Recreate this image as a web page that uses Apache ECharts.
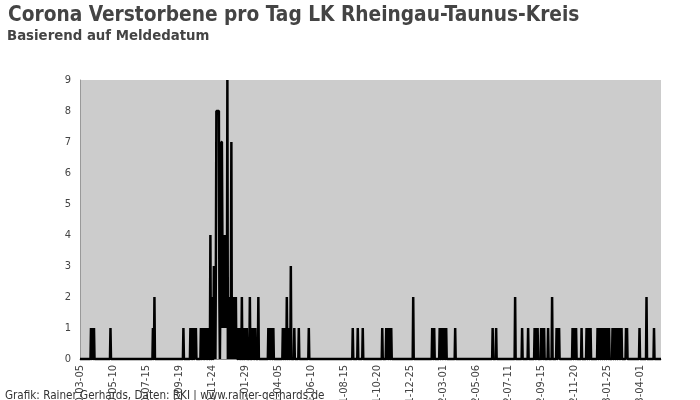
<!DOCTYPE html>
<html>
<head>
<meta charset="utf-8">
<script src="https://cdn.jsdelivr.net/npm/echarts@6/dist/echarts.min.js"></script>
<style>html,body{margin:0;padding:0;background:#fff}#c{width:700px;height:400px}</style>
</head>
<body>
<div id="c"></div>
<script>
const titleText = 'Corona Verstorbene pro Tag LK Rheingau-Taunus-Kreis';
const subtitleText = 'Basierend auf Meldedatum';
const footerText = 'Grafik: Rainer Gerhards, Daten: RKI | www.rainer-gerhards.de';
const startDate = '2020-03-05';
const endDate = '2023-05-12';
const yTicks = [0, 1, 2, 3, 4, 5, 6, 7, 8, 9];

// Days with reported deaths (all other days: 0)
const deathDates = [
  '2020-03-27','2020-03-30','2020-04-02','2020-05-05','2020-07-29','2020-08-01','2020-09-28',
  '2020-10-12','2020-10-15','2020-10-18','2020-10-21','2020-10-23',
  '2020-11-02','2020-11-05','2020-11-08','2020-11-11','2020-11-14','2020-11-17','2020-11-21',
  '2020-11-25','2020-11-28','2020-11-30','2020-12-02','2020-12-03','2020-12-04','2020-12-05',
  '2020-12-06','2020-12-07','2020-12-08','2020-12-09','2020-12-11','2020-12-12','2020-12-13','2020-12-14',
  '2020-12-15','2020-12-16','2020-12-17','2020-12-18','2020-12-19','2020-12-20','2020-12-21',
  '2020-12-22','2020-12-23','2020-12-24','2020-12-25','2020-12-27','2020-12-29','2020-12-30',
  '2021-01-01','2021-01-02','2021-01-04','2021-01-05','2021-01-06','2021-01-08','2021-01-09',
  '2021-01-11','2021-01-13','2021-01-16','2021-01-19','2021-01-23','2021-01-27','2021-01-30',
  '2021-02-02','2021-02-08','2021-02-13','2021-02-16','2021-02-19','2021-02-25',
  '2021-03-17','2021-03-20','2021-03-23','2021-03-27','2021-04-15','2021-04-19','2021-04-23',
  '2021-04-27','2021-05-01','2021-05-08','2021-05-17','2021-06-06',
  '2021-09-02','2021-09-12','2021-09-22','2021-10-31','2021-11-08','2021-11-11','2021-11-14',
  '2021-11-18','2022-01-01','2022-02-08','2022-02-12','2022-02-23','2022-02-27','2022-03-02',
  '2022-03-05','2022-03-08','2022-03-26','2022-06-09','2022-06-16','2022-07-24','2022-08-07',
  '2022-08-19','2022-09-01','2022-09-04','2022-09-07','2022-09-14','2022-09-17','2022-09-20',
  '2022-09-28','2022-10-06','2022-10-15','2022-10-18','2022-10-20','2022-11-16','2022-11-20',
  '2022-11-23','2022-12-04','2022-12-14','2022-12-18','2022-12-22','2023-01-05','2023-01-09',
  '2023-01-13','2023-01-17','2023-01-21','2023-01-25','2023-01-28','2023-02-04','2023-02-08',
  '2023-02-12','2023-02-16','2023-02-19','2023-02-22','2023-03-03','2023-03-05','2023-03-30',
  '2023-04-13','2023-04-28'
];
const deathCounts = [
  1,1,1,1,1,2,1,
  1,1,1,1,1,
  1,1,1,1,1,1,4,
  2,3,1,3,8,8,8,
  8,8,8,2,2,1,7,7,
  4,1,4,2,4,1,3,
  1,4,1,9,2,2,1,
  2,7,2,1,2,2,1,
  2,1,1,1,2,1,1,
  1,2,1,1,1,2,
  1,1,1,1,1,1,2,
  1,3,1,1,1,
  1,1,1,1,1,1,1,
  1,2,1,1,1,1,1,
  1,1,1,1,1,2,1,
  1,1,1,1,1,1,1,
  1,2,1,1,1,1,1,
  1,1,1,1,1,1,1,
  1,1,1,1,1,1,1,
  1,1,1,1,1,1,1,
  2,1
];

// build daily categories
const categories = [];
{
  const d = new Date(startDate + 'T00:00:00Z');
  const end = new Date(endDate + 'T00:00:00Z');
  while (d <= end) {
    categories.push(d.toISOString().slice(0, 10));
    d.setUTCDate(d.getUTCDate() + 1);
  }
}
const lookup = {};
deathDates.forEach((dt, i) => { lookup[dt] = deathCounts[i]; });
const seriesData = categories.map(c => (lookup[c] !== undefined ? lookup[c] : 0));

const FONT = 'DejaVu Sans Condensed, DejaVu Sans, sans-serif';
const chart = echarts.init(document.getElementById('c'), null, { renderer: 'canvas' });
chart.setOption({
  animation: false,
  backgroundColor: '#ffffff',
  title: [
    { text: titleText, left: 3, top: 0, textStyle: { fontFamily: FONT, fontSize: 20.7, fontWeight: 'bold', color: '#444444' } },
    { text: subtitleText, left: 2, top: 24, textStyle: { fontFamily: FONT, fontSize: 14.8, fontWeight: 'bold', color: '#444444' } },
    { text: footerText, left: 0, top: 385, textStyle: { fontFamily: FONT, fontSize: 11.6, fontWeight: 'normal', color: '#333333' } }
  ],
  grid: { left: 80, right: 39, top: 80, bottom: 41, show: true, backgroundColor: '#cccccc', borderWidth: 0, containLabel: false, outerBoundsMode: 'none' },
  xAxis: {
    type: 'category',
    data: categories,
    boundaryGap: false,
    axisLine: { show: true, lineStyle: { color: '#888888', width: 1 } },
    axisTick: { show: false },
    axisLabel: { interval: 65, rotate: 90, margin: 6, color: '#444444', fontSize: 11, fontFamily: FONT },
    splitLine: { show: false }
  },
  yAxis: {
    type: 'value',
    min: yTicks[0],
    max: yTicks[yTicks.length - 1],
    interval: 1,
    axisLine: { show: true, lineStyle: { color: '#999999' } },
    axisTick: { show: false },
    axisLabel: { color: '#444444', fontSize: 11, margin: 9, fontFamily: FONT },
    splitLine: { show: false }
  },
  series: [{
    type: 'custom',
    data: seriesData.map((v, i) => [i, v]),
    encode: { x: 0, y: 1 },
    z: 3,
    renderItem: function (params, api) {
      if (params.dataIndex !== 0) return null;
      const pts = seriesData.map((v, i) => api.coord([i, v]));
      return {
        type: 'polyline',
        shape: { points: pts },
        style: { stroke: '#000000', lineWidth: 2.5, fill: null, lineJoin: 'bevel' },
        silent: true
      };
    }
  }]
});
</script>
</body>
</html>
